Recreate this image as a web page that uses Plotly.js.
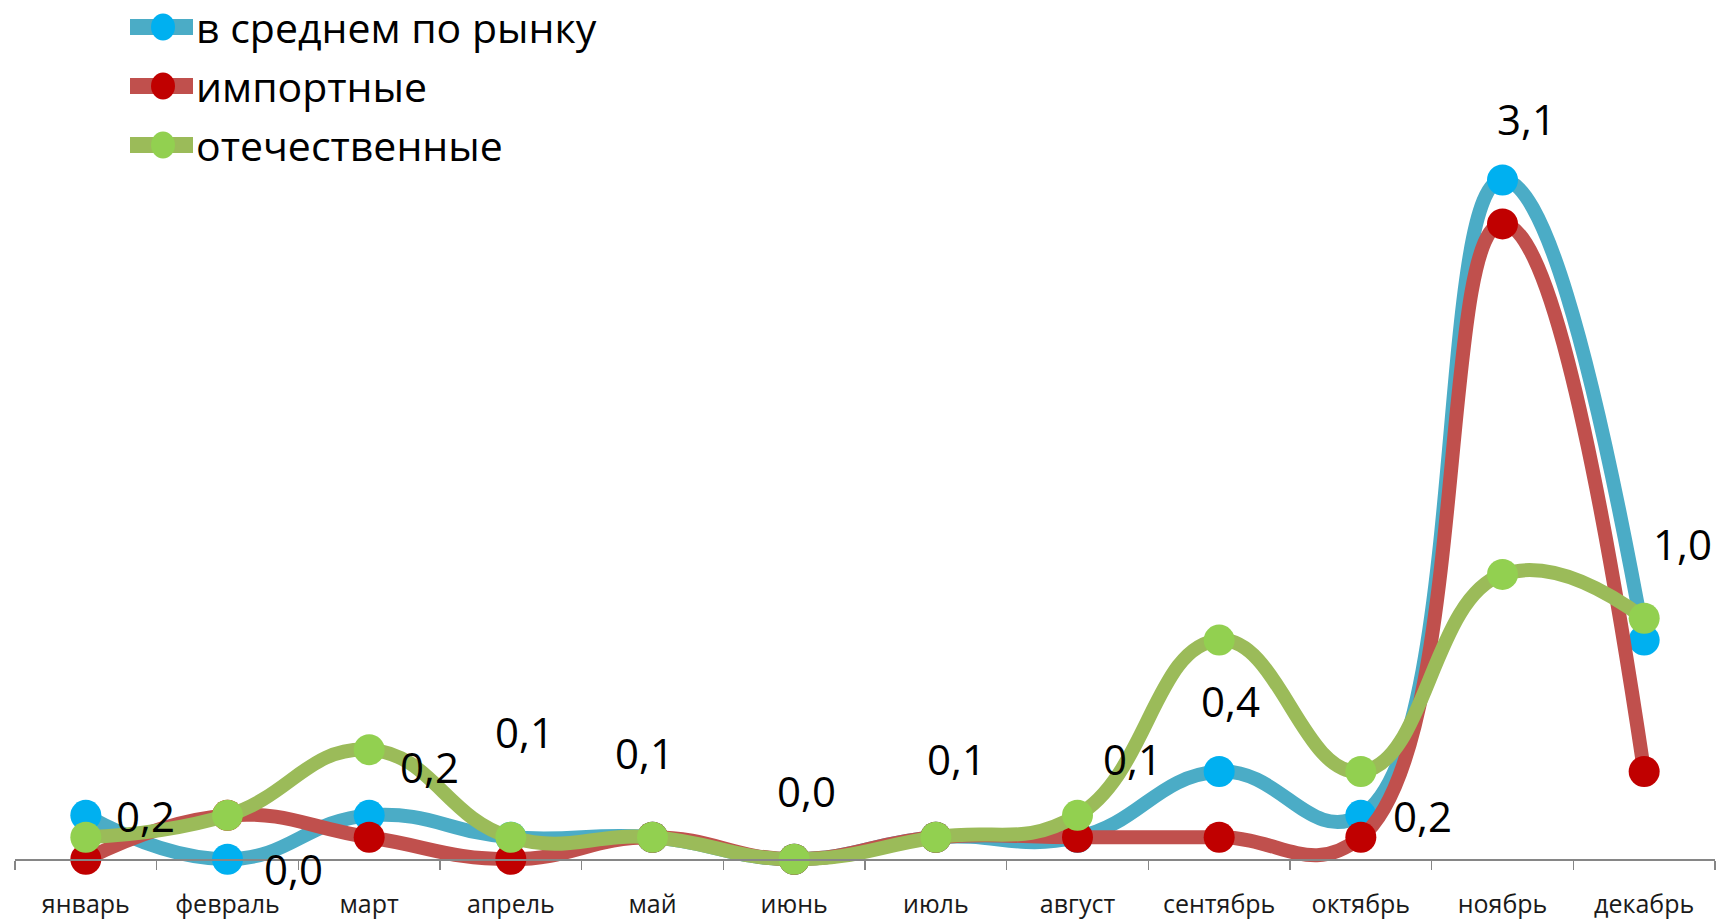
<!DOCTYPE html>
<html>
<head>
<meta charset="utf-8">
<script src="https://cdn.plot.ly/plotly-3.0.1.min.js"></script>
<style>
html,body{margin:0;padding:0;background:#ffffff;}
#chart{width:1716px;height:919px;}
</style>
</head>
<body>
<div id="chart"></div>
<script>
// ---- data ----
const months = ['январь','февраль','март','апрель','май','июнь','июль','август','сентябрь','октябрь','ноябрь','декабрь'];
const seriesNames = ['в среднем по рынку','импортные','отечественные'];
const avgMarket = [0.2,0.0,0.2,0.1,0.1,0.0,0.1,0.1,0.4,0.2,3.1,1.0];
const imported  = [0.0,0.2,0.1,0.0,0.1,0.0,0.1,0.1,0.1,0.1,2.9,0.4];
const domestic  = [0.1,0.2,0.5,0.1,0.1,0.0,0.1,0.2,1.0,0.4,1.3,1.1];

// ---- styling ----
const FONT = '"Open Sans", "Noto Sans", sans-serif';
const lineColors   = ['#4BACC6','#C0504D','#9BBB59'];
const markerColors = ['#00B0F0','#C00000','#92D050'];
// pixel offsets of the data labels (manually placed in the original)
const labelOffsets = [[60,0],[66,-9],[60,49],[14,106],[-8,85],[12,69],[21,79],[55,79],[11,71],[62,0],[24,62],[38,97]];

const W = 1716, H = 919;
const margin = {l:15, r:1, t:0, b:16, pad:0};
const yMin = -0.2, yMax = 3.922;
const plotW = W - margin.l - margin.r;
const plotH = H - margin.t - margin.b;
const pxX = px => (px - margin.l) / plotW;
const pxY = py => 1 - (py - margin.t) / plotH;

const seriesValues = [avgMarket, imported, domestic];

const traces = seriesValues.map((vals, k) => ({
  type: 'scatter',
  mode: 'lines+markers',
  x: months,
  y: vals,
  name: seriesNames[k],
  showlegend: false,
  cliponaxis: false,
  line: {color: lineColors[k], width: 14, shape: 'spline', smoothing: 1.3},
  marker: {color: markerColors[k], size: 31, line: {width: 0}},
  hoverinfo: 'skip'
}));

const annotations = months.map((m, i) => ({
  x: m, y: avgMarket[i], xref: 'x', yref: 'y',
  text: avgMarket[i].toFixed(1).replace('.', ','),
  showarrow: false,
  xshift: labelOffsets[i][0], yshift: labelOffsets[i][1],
  font: {family: FONT, size: 42, color: '#000000'}
}));

// custom legend (top-left)
const legendRowY = [27, 86, 145];
const shapes = [];
seriesNames.forEach((name, k) => {
  const ry = legendRowY[k];
  shapes.push({type:'line', xref:'paper', yref:'paper',
    x0: pxX(130), x1: pxX(193), y0: pxY(ry), y1: pxY(ry),
    line: {color: lineColors[k], width: 16}});
  shapes.push({type:'circle', xref:'paper', yref:'paper',
    x0: pxX(151), x1: pxX(175), y0: pxY(ry + 13.5), y1: pxY(ry - 13.5),
    fillcolor: markerColors[k], line: {width: 0}});
  annotations.push({xref:'paper', yref:'paper', x: pxX(194), y: pxY(ry),
    xanchor:'left', yanchor:'middle', text: name, showarrow:false,
    font: {family: FONT, size: 41, color: '#000000'}});
});

const layout = {
  width: W, height: H,
  margin: margin,
  paper_bgcolor: '#ffffff', plot_bgcolor: '#ffffff',
  showlegend: false,
  font: {family: FONT, color: '#000000'},
  xaxis: {
    type: 'category', range: [-0.5, 11.5],
    anchor: 'free', position: (0 - yMin) / (yMax - yMin),
    showline: true, linecolor: '#868686', linewidth: 1.5,
    ticks: 'outside', tickson: 'boundaries', ticklen: 9, tickcolor: '#868686', tickwidth: 1.5,
    showgrid: false, zeroline: false,
    tickfont: {family: FONT, size: 25, color: '#1a1a1a'},
    ticklabelstandoff: 22
  },
  yaxis: {range: [yMin, yMax], visible: false, showgrid: false, zeroline: false},
  shapes: shapes,
  annotations: annotations
};

Plotly.newPlot('chart', traces, layout, {displayModeBar: false, staticPlot: true});
</script>
</body>
</html>
